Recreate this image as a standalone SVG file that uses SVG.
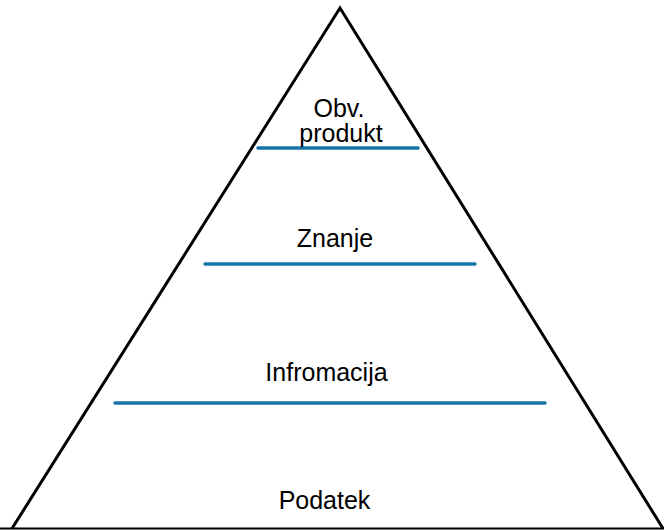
<svg xmlns="http://www.w3.org/2000/svg" width="664" height="530" viewBox="0 0 664 530">
<style>
.edge{fill:none;stroke:#000;stroke-width:3;stroke-linejoin:miter}
.sep{stroke:#1474a8;stroke-width:3.5;stroke-linecap:round}
.lbl{font-family:"Liberation Sans",Arial,sans-serif;font-size:25px;fill:#000;text-anchor:middle}
</style>
<rect width="664" height="530" fill="#fff"/>
<g id="pyramid">
<polyline class="edge" points="12,528.5 340,8 663,528.5"/>
<line x1="0" y1="528.5" x2="664" y2="528.5" stroke="#000" stroke-width="2"/>
</g>
<g id="connectors">
<line class="sep" x1="258" y1="148" x2="418" y2="148"/>
<line class="sep" x1="205" y1="264" x2="475" y2="264"/>
<line class="sep" x1="115" y1="403" x2="545" y2="403"/>
</g>
<g id="obv-produkt"><text class="lbl" x="339" y="117">Obv.</text><text class="lbl" x="341" y="142">produkt</text></g>
<g id="znanje"><text class="lbl" x="335" y="247">Znanje</text></g>
<g id="informacija"><text class="lbl" x="326.5" y="381">Infromacija</text></g>
<g id="podatek"><text class="lbl" x="324.5" y="509">Podatek</text></g>
</svg>
